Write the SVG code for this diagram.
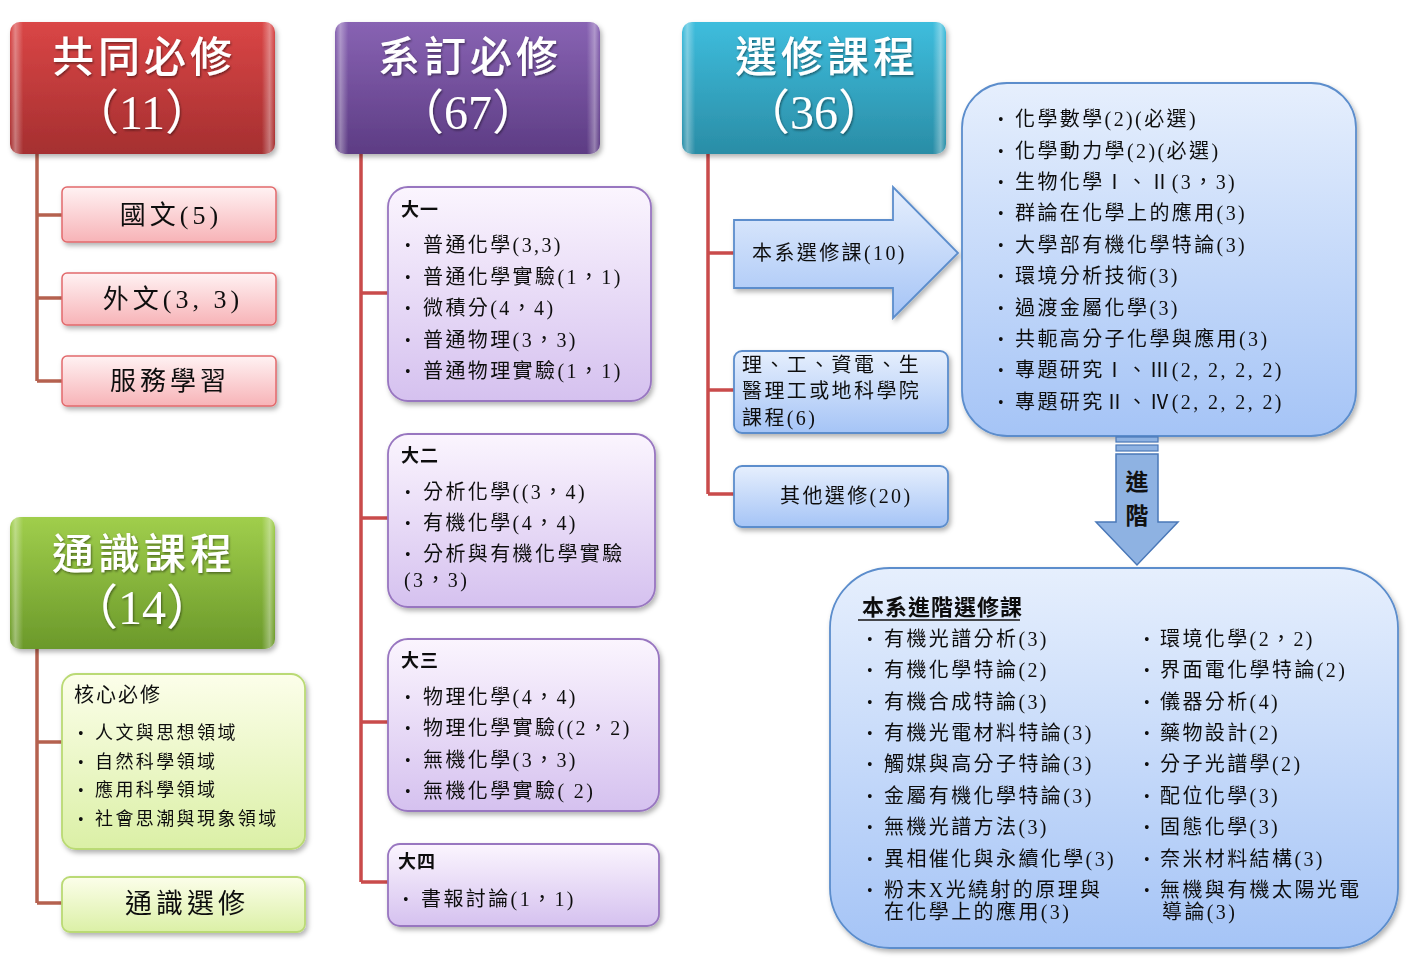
<svg xmlns="http://www.w3.org/2000/svg" width="1407" height="959" viewBox="0 0 1407 959">
<defs>
<linearGradient id="gRed" x1="0" y1="0" x2="0" y2="1"><stop offset="0" stop-color="#da4646"/><stop offset="1" stop-color="#a52f30"/></linearGradient>
<linearGradient id="gPur" x1="0" y1="0" x2="0" y2="1"><stop offset="0" stop-color="#8863b3"/><stop offset="1" stop-color="#5d3c84"/></linearGradient>
<linearGradient id="gTeal" x1="0" y1="0" x2="0" y2="1"><stop offset="0" stop-color="#3ebddd"/><stop offset="1" stop-color="#2a8da6"/></linearGradient>
<linearGradient id="gGrn" x1="0" y1="0" x2="0" y2="1"><stop offset="0" stop-color="#a0ce4c"/><stop offset="1" stop-color="#6b992a"/></linearGradient>
<linearGradient id="gGloss" x1="0" y1="0" x2="1" y2="0"><stop offset="0" stop-color="#fff" stop-opacity="0"/><stop offset="0.02" stop-color="#fff" stop-opacity="0.35"/><stop offset="0.05" stop-color="#fff" stop-opacity="0"/><stop offset="0.95" stop-color="#fff" stop-opacity="0"/><stop offset="0.98" stop-color="#fff" stop-opacity="0.35"/><stop offset="1" stop-color="#fff" stop-opacity="0"/></linearGradient>
<linearGradient id="gPink" x1="0" y1="0" x2="0" y2="1"><stop offset="0" stop-color="#fff2f3"/><stop offset="1" stop-color="#f7b3b7"/></linearGradient>
<linearGradient id="gLav" x1="0" y1="0" x2="0" y2="1"><stop offset="0" stop-color="#fbf5fe"/><stop offset="1" stop-color="#d5c1ef"/></linearGradient>
<linearGradient id="gBlue" x1="0" y1="0" x2="0" y2="1"><stop offset="0" stop-color="#e6effd"/><stop offset="1" stop-color="#a5c4f6"/></linearGradient>
<linearGradient id="gLime" x1="0" y1="0" x2="0" y2="1"><stop offset="0" stop-color="#fcfeea"/><stop offset="1" stop-color="#dbf0a6"/></linearGradient>
<filter id="sh" x="-10%" y="-10%" width="125%" height="130%"><feDropShadow dx="2" dy="3" stdDeviation="2.5" flood-color="#000" flood-opacity="0.3"/></filter>
<filter id="tsh" x="-10%" y="-10%" width="125%" height="130%"><feDropShadow dx="1" dy="1.5" stdDeviation="1" flood-color="#000" flood-opacity="0.45"/></filter>
<style>
text{font-family:'Liberation Serif','Noto Sans CJK TC',serif;fill:#111;}
.hd{font-size:42px;fill:#fff;letter-spacing:4px;text-anchor:middle;dominant-baseline:central;font-weight:500;}
.hn{font-size:48px;fill:#fff;text-anchor:middle;dominant-baseline:central;}
.c26{font-size:26px;letter-spacing:4px;text-anchor:middle;dominant-baseline:central;}
.t{font-size:20px;letter-spacing:2.4px;dominant-baseline:central;}
.s{font-size:18px;letter-spacing:2.4px;dominant-baseline:central;}
.b{font-size:18px;font-weight:700;letter-spacing:1px;dominant-baseline:central;}
.bu{font-size:16px;dominant-baseline:central;}
.pk{fill:url(#gPink);stroke:#e26a6c;stroke-width:1.5;}
.lv{fill:url(#gLav);stroke:#9876c0;stroke-width:1.8;}
.bl{fill:url(#gBlue);stroke:#5b8dcc;stroke-width:1.8;}
.lm{fill:url(#gLime);stroke:#bada74;stroke-width:1.8;}
.gl{fill:url(#gGloss);}
.cb{fill:none;stroke:#b5614f;stroke-width:3.5;}
.cr{fill:none;stroke:#c94b4b;stroke-width:3.5;}
</style>
</defs>
<rect width="1407" height="959" fill="#fff"/>

<g id="connectors">
<path class="cb" d="M37 154V381M37 215H62M37 298H62M37 381H62"/>
<path class="cr" d="M361 154V882M361 293H388M361 518H388M361 722H388M361 882H388"/>
<path class="cr" d="M708 154V494M708 253H734M708 390H734M708 494H734"/>
<path class="cb" d="M37 649V903M37 742H62M37 903H62"/>
</g>

<g id="hdr-common" filter="url(#sh)">
<rect x="10" y="22" width="265" height="132" rx="10" fill="url(#gRed)"/>
<rect x="10" y="22" width="265" height="132" rx="10" class="gl"/>
<text class="hd" x="144" y="58" filter="url(#tsh)">共同必修</text>
<text class="hn" x="142" y="112" filter="url(#tsh)">（11）</text>
</g>
<g id="hdr-dept" filter="url(#sh)">
<rect x="335" y="22" width="265" height="132" rx="10" fill="url(#gPur)"/>
<rect x="335" y="22" width="265" height="132" rx="10" class="gl"/>
<text class="hd" x="470" y="58" filter="url(#tsh)">系訂必修</text>
<text class="hn" x="468" y="112" filter="url(#tsh)">（67）</text>
</g>
<g id="hdr-elective" filter="url(#sh)">
<rect x="682" y="22" width="264" height="132" rx="10" fill="url(#gTeal)"/>
<rect x="682" y="22" width="264" height="132" rx="10" class="gl"/>
<text class="hd" x="827" y="58" filter="url(#tsh)">選修課程</text>
<text class="hn" x="814" y="112" filter="url(#tsh)">（36）</text>
</g>
<g id="hdr-general" filter="url(#sh)">
<rect x="10" y="517" width="265" height="132" rx="10" fill="url(#gGrn)"/>
<rect x="10" y="517" width="265" height="132" rx="10" class="gl"/>
<text class="hd" x="144" y="555" filter="url(#tsh)">通識課程</text>
<text class="hn" x="142" y="607" filter="url(#tsh)">（14）</text>
</g>

<g id="n-chinese" filter="url(#sh)"><rect class="pk" x="62" y="187" width="214" height="55" rx="5"/><text class="c26" x="171" y="215">國文(5)</text></g>
<g id="n-foreign" filter="url(#sh)"><rect class="pk" x="62" y="273" width="214" height="52" rx="5"/><text class="c26" x="173" y="299">外文(3, 3)</text></g>
<g id="n-service" filter="url(#sh)"><rect class="pk" x="62" y="356" width="214" height="50" rx="5"/><text class="c26" x="170" y="381">服務學習</text></g>

<g id="n-y1" filter="url(#sh)">
<rect class="lv" x="388" y="187" width="263" height="214" rx="20"/>
<text class="b" x="401" y="210">大一</text>
<text class="bu" x="405" y="245">•</text><text class="t" x="423" y="245">普通化學(3,3)</text>
<text class="bu" x="405" y="277">•</text><text class="t" x="423" y="277">普通化學實驗(1，1)</text>
<text class="bu" x="405" y="308">•</text><text class="t" x="423" y="308">微積分(4，4)</text>
<text class="bu" x="405" y="340">•</text><text class="t" x="423" y="340">普通物理(3，3)</text>
<text class="bu" x="405" y="371">•</text><text class="t" x="423" y="371">普通物理實驗(1，1)</text>
</g>
<g id="n-y2" filter="url(#sh)">
<rect class="lv" x="388" y="434" width="267" height="173" rx="20"/>
<text class="b" x="401" y="456">大二</text>
<text class="bu" x="405" y="492">•</text><text class="t" x="423" y="492">分析化學((3，4)</text>
<text class="bu" x="405" y="523">•</text><text class="t" x="423" y="523">有機化學(4，4)</text>
<text class="bu" x="405" y="554">•</text><text class="t" x="423" y="554">分析與有機化學實驗</text>
<text class="t" x="404" y="580">(3，3)</text>
</g>
<g id="n-y3" filter="url(#sh)">
<rect class="lv" x="388" y="639" width="271" height="172" rx="20"/>
<text class="b" x="401" y="661">大三</text>
<text class="bu" x="405" y="697">•</text><text class="t" x="423" y="697">物理化學(4，4)</text>
<text class="bu" x="405" y="728">•</text><text class="t" x="423" y="728">物理化學實驗((2，2)</text>
<text class="bu" x="405" y="760">•</text><text class="t" x="423" y="760">無機化學(3，3)</text>
<text class="bu" x="405" y="791">•</text><text class="t" x="423" y="791">無機化學實驗( 2)</text>
</g>
<g id="n-y4" filter="url(#sh)">
<rect class="lv" x="388" y="844" width="271" height="82" rx="12"/>
<text class="b" x="398" y="862">大四</text>
<text class="bu" x="403" y="899">•</text><text class="t" x="421" y="899">書報討論(1，1)</text>
</g>

<g id="n-dept-elective" filter="url(#sh)">
<polygon class="bl" points="734,220 893,220 893,187 958,253 893,318 893,288 734,288"/>
<text class="t" x="752" y="253">本系選修課(10)</text>
</g>
<g id="n-college" filter="url(#sh)">
<rect class="bl" x="734" y="351" width="214" height="82" rx="8"/>
<text class="t" x="742" y="365">理、工、資電、生</text>
<text class="t" x="742" y="391">醫理工或地科學院</text>
<text class="t" x="742" y="418">課程(6)</text>
</g>
<g id="n-other" filter="url(#sh)">
<rect class="bl" x="734" y="466" width="214" height="61" rx="8"/>
<text class="t" x="780" y="496">其他選修(20)</text>
</g>

<g id="n-list" filter="url(#sh)">
<rect class="bl" x="962" y="83" width="394" height="353" rx="45"/>
<text class="bu" x="998" y="119">•</text><text class="t" x="1015" y="119">化學數學(2)(必選)</text>
<text class="bu" x="998" y="151">•</text><text class="t" x="1015" y="151">化學動力學(2)(必選)</text>
<text class="bu" x="998" y="182">•</text><text class="t" x="1015" y="182">生物化學Ⅰ、Ⅱ(3，3)</text>
<text class="bu" x="998" y="213">•</text><text class="t" x="1015" y="213">群論在化學上的應用(3)</text>
<text class="bu" x="998" y="245">•</text><text class="t" x="1015" y="245">大學部有機化學特論(3)</text>
<text class="bu" x="998" y="276">•</text><text class="t" x="1015" y="276">環境分析技術(3)</text>
<text class="bu" x="998" y="308">•</text><text class="t" x="1015" y="308">過渡金屬化學(3)</text>
<text class="bu" x="998" y="339">•</text><text class="t" x="1015" y="339">共軛高分子化學與應用(3)</text>
<text class="bu" x="998" y="370">•</text><text class="t" x="1015" y="370">專題研究Ⅰ、Ⅲ(2, 2, 2, 2)</text>
<text class="bu" x="998" y="402">•</text><text class="t" x="1015" y="402">專題研究Ⅱ、Ⅳ(2, 2, 2, 2)</text>
</g>

<g id="n-advance-arrow">
<rect x="1116" y="437" width="42" height="5" fill="#8eb2e2" stroke="#4a78b8" stroke-width="1.2"/>
<rect x="1116" y="445" width="42" height="6" fill="#8eb2e2" stroke="#4a78b8" stroke-width="1.2"/>
<polygon points="1116,454 1158,454 1158,522 1178,522 1137,565 1096,522 1116,522" fill="#8eb2e2" stroke="#4a78b8" stroke-width="1.5"/>
<text x="1137" y="482" style="font-size:23px;font-weight:700;text-anchor:middle;dominant-baseline:central;">進</text>
<text x="1137" y="516" style="font-size:23px;font-weight:700;text-anchor:middle;dominant-baseline:central;">階</text>
</g>

<g id="n-advanced" filter="url(#sh)">
<rect class="bl" x="830" y="568" width="568" height="380" rx="60"/>
<text x="862" y="607" style="font-size:22px;font-weight:700;letter-spacing:1px;dominant-baseline:central;">本系進階選修課</text>
<line x1="858" y1="620" x2="1020" y2="620" stroke="#111" stroke-width="1.5"/>
<text class="bu" x="867" y="639">•</text><text class="t" x="884" y="639">有機光譜分析(3)</text>
<text class="bu" x="867" y="670">•</text><text class="t" x="884" y="670">有機化學特論(2)</text>
<text class="bu" x="867" y="702">•</text><text class="t" x="884" y="702">有機合成特論(3)</text>
<text class="bu" x="867" y="733">•</text><text class="t" x="884" y="733">有機光電材料特論(3)</text>
<text class="bu" x="867" y="764">•</text><text class="t" x="884" y="764">觸媒與高分子特論(3)</text>
<text class="bu" x="867" y="796">•</text><text class="t" x="884" y="796">金屬有機化學特論(3)</text>
<text class="bu" x="867" y="827">•</text><text class="t" x="884" y="827">無機光譜方法(3)</text>
<text class="bu" x="867" y="859">•</text><text class="t" x="884" y="859">異相催化與永續化學(3)</text>
<text class="bu" x="867" y="890">•</text><text class="t" x="884" y="890">粉末X光繞射的原理與</text>
<text class="t" x="884" y="912">在化學上的應用(3)</text>
<text class="bu" x="1144" y="639">•</text><text class="t" x="1160" y="639">環境化學(2，2)</text>
<text class="bu" x="1144" y="670">•</text><text class="t" x="1160" y="670">界面電化學特論(2)</text>
<text class="bu" x="1144" y="702">•</text><text class="t" x="1160" y="702">儀器分析(4)</text>
<text class="bu" x="1144" y="733">•</text><text class="t" x="1160" y="733">藥物設計(2)</text>
<text class="bu" x="1144" y="764">•</text><text class="t" x="1160" y="764">分子光譜學(2)</text>
<text class="bu" x="1144" y="796">•</text><text class="t" x="1160" y="796">配位化學(3)</text>
<text class="bu" x="1144" y="827">•</text><text class="t" x="1160" y="827">固態化學(3)</text>
<text class="bu" x="1144" y="859">•</text><text class="t" x="1160" y="859">奈米材料結構(3)</text>
<text class="bu" x="1144" y="890">•</text><text class="t" x="1160" y="890">無機與有機太陽光電</text>
<text class="t" x="1162" y="912">導論(3)</text>
</g>

<g id="n-core" filter="url(#sh)">
<rect class="lm" x="62" y="674" width="243" height="175" rx="14"/>
<text x="74" y="695" style="font-size:20px;letter-spacing:2px;dominant-baseline:central;">核心必修</text>
<text class="bu" x="78" y="733">•</text><text class="s" x="95" y="733">人文與思想領域</text>
<text class="bu" x="78" y="762">•</text><text class="s" x="95" y="762">自然科學領域</text>
<text class="bu" x="78" y="790">•</text><text class="s" x="95" y="790">應用科學領域</text>
<text class="bu" x="78" y="819">•</text><text class="s" x="95" y="819">社會思潮與現象領域</text>
</g>
<g id="n-gen-elective" filter="url(#sh)">
<rect class="lm" x="62" y="877" width="243" height="55" rx="8"/>
<text x="187" y="904" style="font-size:27px;letter-spacing:4px;text-anchor:middle;dominant-baseline:central;">通識選修</text>
</g>
</svg>
